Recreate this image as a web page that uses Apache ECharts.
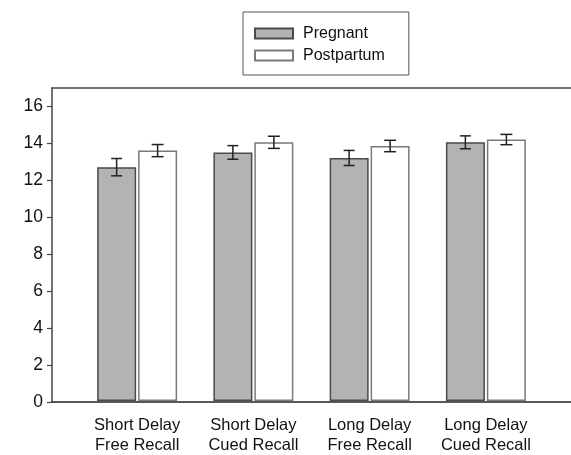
<!DOCTYPE html>
<html>
<head>
<meta charset="utf-8">
<script src="https://cdn.jsdelivr.net/npm/echarts@6/dist/echarts.min.js"></script>
<style>html,body{margin:0;padding:0;background:#fff}#c{width:571px;height:455px}</style>
</head>
<body>
<div id="c"></div>
<script>
var categories = ['Short Delay\nFree Recall', 'Short Delay\nCued Recall', 'Long Delay\nFree Recall', 'Long Delay\nCued Recall'];
var pregnant = [12.7, 13.5, 13.2, 14.05];
var pregnantErr = [0.47, 0.37, 0.41, 0.35];
var postpartum = [13.6, 14.05, 13.85, 14.2];
var postpartumErr = [0.33, 0.33, 0.31, 0.28];
var yTickLabels = [0, 2, 4, 6, 8, 10, 12, 14, 16];

var FONT = '"Liberation Sans", Arial, sans-serif';

function errData(vals, errs) {
  return vals.map(function (v, i) { return [i, v - errs[i], v + errs[i]]; });
}
function errRender(offset, cap) {
  return function (params, api) {
    var lo = api.coord([api.value(0), api.value(1)]);
    var hi = api.coord([api.value(0), api.value(2)]);
    var x = lo[0] + offset;
    var st = { stroke: '#222', lineWidth: 1.5 };
    return {
      type: 'group',
      children: [
        { type: 'line', shape: { x1: x, y1: lo[1], x2: x, y2: hi[1] }, style: st },
        { type: 'line', shape: { x1: x - cap / 2, y1: lo[1], x2: x + cap / 2, y2: lo[1] }, style: st },
        { type: 'line', shape: { x1: x - cap / 2, y1: hi[1], x2: x + cap / 2, y2: hi[1] }, style: st }
      ]
    };
  };
}

var chart = echarts.init(document.getElementById('c'), null, { renderer: 'canvas' });
chart.setOption({
  animation: false,
  backgroundColor: '#fff',
  textStyle: { fontFamily: FONT },
  legend: {
    orient: 'vertical',
    left: 243, top: 12,
    padding: [13, 24, 11, 11],
    borderColor: '#555', borderWidth: 1,
    itemWidth: 38, itemHeight: 10, itemGap: 5,
    icon: 'rect',
    textStyle: { fontFamily: FONT, fontSize: 16, color: '#111', lineHeight: 17, padding: [0, 0, 0, 5] },
    data: ['Pregnant', 'Postpartum']
  },
  grid: [
    { left: 52, right: 0, top: 88, bottom: 53 },
    { left: 79, right: 27, top: 88, bottom: 53 }
  ],
  xAxis: [
    { gridIndex: 0, type: 'value', min: 0, max: 1, position: 'bottom',
      axisLine: { show: true, lineStyle: { color: '#222', width: 1.5 } },
      axisTick: { show: false }, axisLabel: { show: false }, splitLine: { show: false } },
    { gridIndex: 0, type: 'value', min: 0, max: 1, position: 'top',
      axisLine: { show: true, lineStyle: { color: '#444', width: 1.5 } },
      axisTick: { show: false }, axisLabel: { show: false }, splitLine: { show: false } },
    { gridIndex: 1, type: 'category', data: categories,
      axisLine: { show: false }, axisTick: { show: false },
      axisLabel: { fontFamily: FONT, fontSize: 16.5, lineHeight: 20, color: '#111', margin: 14, interval: 0 } }
  ],
  yAxis: [
    { gridIndex: 0, type: 'value', min: 0, max: 17, interval: 2,
      axisLine: { show: true, lineStyle: { color: '#444', width: 1.5 } },
      axisTick: { show: true, length: 5, customValues: yTickLabels, lineStyle: { color: '#444', width: 1.2 } },
      axisLabel: { customValues: yTickLabels, fontFamily: FONT, fontSize: 17.5, color: '#111', margin: 9 },
      splitLine: { show: false } },
    { gridIndex: 1, type: 'value', min: 0, max: 17, show: false }
  ],
  series: [
    { name: 'Pregnant', type: 'bar', xAxisIndex: 2, yAxisIndex: 1, data: pregnant,
      barWidth: 39, barGap: '5%',
      itemStyle: { color: '#b3b3b3', borderColor: '#4a4a4a', borderWidth: 1.5 } },
    { name: 'Postpartum', type: 'bar', xAxisIndex: 2, yAxisIndex: 1, data: postpartum,
      barWidth: 39, barGap: '5%',
      itemStyle: { color: '#ffffff', borderColor: '#7a7a7a', borderWidth: 1.5 } },
    { type: 'custom', xAxisIndex: 2, yAxisIndex: 1, data: errData(pregnant, pregnantErr),
      renderItem: errRender(-20.5, 11), z: 5, silent: true },
    { type: 'custom', xAxisIndex: 2, yAxisIndex: 1, data: errData(postpartum, postpartumErr),
      renderItem: errRender(20.5, 12), z: 5, silent: true }
  ]
});
</script>
</body>
</html>
